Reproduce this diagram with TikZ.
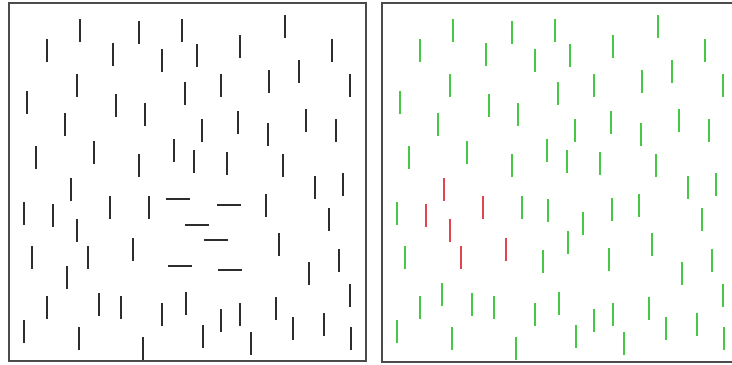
\documentclass[tikz,border=0pt]{standalone}
\usepackage{tikz}
\definecolor{framegray}{RGB}{75,75,75}
\definecolor{stickgray}{RGB}{45,45,45}
\definecolor{stickgreen}{RGB}{70,200,70}
\definecolor{stickred}{RGB}{225,70,80}
\tikzstyle{frame} = [draw=framegray, line width=1.6pt]
\tikzstyle{stick} = [draw, line width=1.6pt]

% vertical sticks present in both panels (x, top y)
\def\commonsticks{80/19,139/21,182/19,47/39,113/43,162/49,77/74,185/82,27/91,116/94,145/103,65/113,36/146,94/141,174/139,139/154,
285/15,197/44,240/35,332/39,299/60,221/74,269/70,350/74,202/119,238/111,268/123,306/109,336/119,194/150,227/152,283/154,315/176,343/173,
24/202,149/196,32/246,47/296,99/293,121/296,162/303,186/292,24/320,79/327,143/337,
266/194,329/208,279/233,339/249,309/262,350/284,203/325,221/309,240/303,276/297,293/317,251/332,324/313,351/327}
% sticks that are red in the right panel
\def\oddsticks{71/178,53/204,110/196,77/219,88/246,133/238}

\begin{document}
\begin{tikzpicture}[x=0.03cm, y=-0.03cm]
    \useasboundingbox (0,0) rectangle (732,364);

    % left panel
    \draw [frame] (9,3) rectangle (366,361);
    \foreach \x/\y in \commonsticks {
        \path [stick, stickgray] (\x,\y) -- ++(0,23);
    }
    \foreach \x/\y in \oddsticks {
        \path [stick, stickgray] (\x,\y) -- ++(0,23);
    }
    \path [stick, stickgray] (67,266) -- ++(0,23);
    \foreach \x/\y in {166/199,217/205,185/225,204/240,168/266,218/270} {
        \path [stick, stickgray] (\x,\y) -- ++(24,0);
    }

    % right panel
    \draw [frame] (740,3) -- (382,3) -- (382,362) -- (740,362);
    \begin{scope}[xshift=373*0.03cm]
        \foreach \x/\y in \commonsticks {
            \path [stick, stickgreen] (\x,\y) -- ++(0,23);
        }
        \foreach \x/\y in {175/199,239/198,210/212,195/231,236/248,170/250,69/283} {
            \path [stick, stickgreen] (\x,\y) -- ++(0,23);
        }
        \foreach \x/\y in \oddsticks {
            \path [stick, stickred] (\x,\y) -- ++(0,23);
        }
    \end{scope}
\end{tikzpicture}
\end{document}
